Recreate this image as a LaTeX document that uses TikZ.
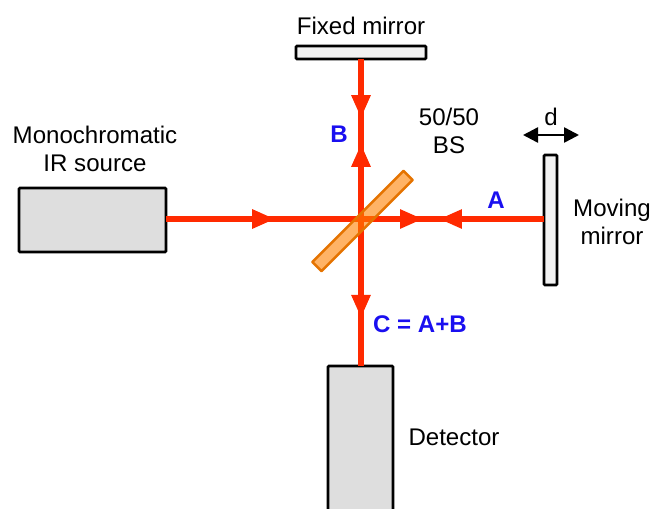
\documentclass[tikz,border=0pt]{standalone}
\usepackage{fontspec}
\setmainfont{Liberation Sans}
\usepackage{xcolor}
\usetikzlibrary{arrows.meta, decorations.markings}
\definecolor{beamred}{HTML}{FF2A00}
\definecolor{labelblue}{HTML}{1A0FF0}
\tikzset{
    beam/.style={line width=0.11cm, draw=beamred},
    arrowat/.style={postaction={decorate, decoration={markings,
        mark=at position #1 with {\arrow[beamred]{Triangle[length=0.46cm, width=0.36cm]}}}}},
    part/.style={draw=black, line width=0.055cm, rounded corners=0.02cm, outer sep=0pt, inner sep=0pt},
    box/.style={part, fill=black!13},
    mirror/.style={part, fill=black!5},
    txt/.style={font=\fontsize{13.7pt}{16pt}\selectfont, align=center, inner sep=0pt},
    lab/.style={font=\fontsize{13.7pt}{16pt}\selectfont\bfseries, text=labelblue, inner sep=0pt}
}

\begin{document}
\begin{tikzpicture}[x=0.02cm, y=-0.02cm]
    \useasboundingbox (0, 0) rectangle (651, 508);

    \node[box, minimum width=2.94cm, minimum height=1.28cm] (source) at (92.5, 220) {};
    \node[box, minimum width=1.3cm, minimum height=3.2cm] (detector) at (360.5, 446) {};
    \node[mirror, minimum width=2.6cm, minimum height=0.26cm] (fixed) at (361, 52.5) {};
    \node[mirror, minimum width=0.26cm, minimum height=2.6cm] (moving) at (550.5, 220) {};
    \coordinate (center) at (361, 219);

    % beams
    \draw[beam, arrowat=0.56] (source.east |- center) -- (center);
    \draw[beam, arrowat=0.574] (moving.west |- center) -- (center);
    \draw[beam, arrowat=0.339] (center) -- (moving.west |- center);
    \draw[beam, arrowat=0.37] (fixed.south -| center) -- (center);
    \draw[beam, arrowat=0.47] (center) -- (fixed.south -| center);
    \draw[beam, arrowat=0.673] (center) -- (detector.north -| center);

    \node[draw=orange!90!black, fill=orange, fill opacity=0.6, line width=0.05cm, minimum width=2.58cm, minimum height=0.26cm, inner sep=0pt, rotate=45, rounded corners=0.01cm] (splitter) at (362.5, 221) {};

    % travel of the mirror
    \coordinate (travelL) at (523, 135);
    \coordinate (travelR) at (579, 135);
    \draw[{Triangle[length=0.3cm, width=0.3cm]}-{Triangle[length=0.3cm, width=0.3cm]}, line width=0.05cm] (travelL) -- (travelR);

    \node[txt] (fixedlabel) at (361, 26) {Fixed mirror};
    \node[txt] (sourcelabel) at (95, 149) {Monochromatic\\IR source};
    \node[txt] (bslabel) at (449, 131) {50/50\\BS};
    \node[txt] (dlabel) at (551, 117) {d};
    \node[txt] (movinglabel) at (612, 222) {Moving\\mirror};
    \node[txt] (detectorlabel) at (454, 437) {Detector};
    \node[lab] (alabel) at (496, 200) {A};
    \node[lab] (blabel) at (339, 134) {B};
    \node[lab] (clabel) at (420, 324) {C = A+B};
\end{tikzpicture}
\end{document}
